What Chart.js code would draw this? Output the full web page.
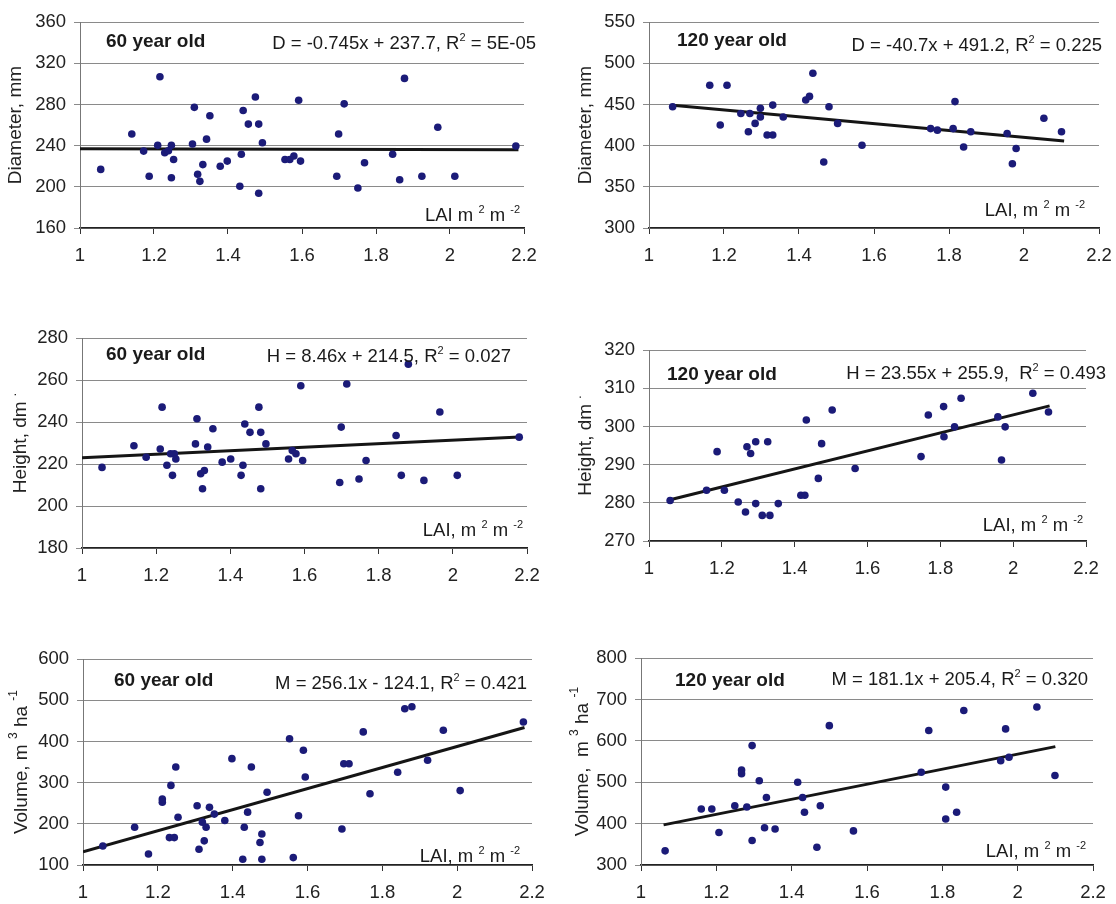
<!DOCTYPE html>
<html>
<head>
<meta charset="utf-8">
<script src="https://cdn.jsdelivr.net/npm/chart.js@4.4.1/dist/chart.umd.min.js"></script>
<style>
  body { margin: 0; background: #fff; }
  #page { position: relative; width: 1116px; height: 904px; overflow: hidden; }
  .panel { position: absolute; }
</style>
</head>
<body>
<div id="page"></div>
<script>
// shared x ticks (LAI)
const xTicks = [1, 1.2, 1.4, 1.6, 1.8, 2, 2.2];

// Diameter, 60 year old
const dia60X = [1.056, 1.140, 1.172, 1.187, 1.216, 1.210, 1.229, 1.239, 1.247, 1.247, 1.253, 1.309, 1.304, 1.318, 1.324, 1.332, 1.342, 1.351, 1.379, 1.398, 1.432, 1.436, 1.441, 1.455, 1.474, 1.483, 1.493, 1.483, 1.554, 1.567, 1.578, 1.591, 1.596, 1.694, 1.699, 1.714, 1.751, 1.769, 1.845, 1.864, 1.877, 1.924, 1.967, 2.013, 2.178];
const dia60Y = [216.9, 251.3, 234.7, 210.3, 306.9, 240.3, 233.1, 235.0, 240.3, 208.8, 226.6, 277.2, 241.6, 212.2, 205.3, 221.6, 246.3, 269.1, 220.0, 225.0, 200.6, 231.6, 274.1, 260.9, 287.2, 260.9, 242.8, 193.8, 226.6, 226.6, 230.0, 284.1, 225.0, 210.3, 251.3, 280.6, 198.8, 223.4, 231.6, 206.9, 305.3, 210.3, 257.8, 210.3, 239.7];
const dia60FitX = [1.0, 2.185];
const dia60FitY = [237.0, 236.1];
const dia60Ticks = [160, 200, 240, 280, 320, 360];

// Diameter, 120 year old
const dia120X = [1.063, 1.162, 1.208, 1.190, 1.245, 1.269, 1.265, 1.283, 1.297, 1.297, 1.315, 1.330, 1.330, 1.358, 1.418, 1.428, 1.437, 1.466, 1.480, 1.503, 1.568, 1.751, 1.769, 1.811, 1.816, 1.839, 1.858, 1.955, 1.969, 1.979, 2.053, 2.100];
const dia120Y = [447.3, 473.4, 473.4, 425.0, 439.1, 439.1, 416.8, 427.0, 445.3, 434.8, 412.9, 412.9, 449.2, 434.8, 455.5, 459.8, 487.9, 380.1, 447.3, 427.0, 400.4, 420.7, 418.8, 420.7, 453.5, 398.4, 416.8, 414.8, 378.1, 396.5, 433.2, 416.8];
const dia120FitX = [1.063, 2.107];
const dia120FitY = [448.9, 405.5];
const dia120Ticks = [300, 350, 400, 450, 500, 550];

// Height, 60 year old
const hgt60X = [1.054, 1.140, 1.173, 1.211, 1.216, 1.229, 1.239, 1.249, 1.244, 1.253, 1.306, 1.310, 1.320, 1.330, 1.325, 1.339, 1.353, 1.378, 1.401, 1.429, 1.434, 1.439, 1.453, 1.477, 1.482, 1.482, 1.496, 1.557, 1.567, 1.577, 1.590, 1.595, 1.695, 1.699, 1.714, 1.747, 1.766, 1.847, 1.861, 1.880, 1.922, 1.965, 2.012, 2.179];
const hgt60Y = [218.4, 228.7, 223.2, 227.2, 247.1, 219.4, 224.9, 224.9, 214.6, 222.4, 229.6, 241.6, 215.4, 216.9, 208.2, 228.1, 236.8, 220.9, 222.4, 214.6, 219.4, 239.1, 235.1, 247.1, 235.1, 208.2, 229.6, 222.4, 226.4, 224.9, 257.3, 221.7, 211.2, 237.6, 258.1, 212.9, 221.7, 233.6, 214.6, 267.6, 212.2, 244.8, 214.6, 232.8];
const hgt60FitX = [1.0, 2.18];
const hgt60FitY = [223.0, 232.9];
const hgt60Ticks = [180, 200, 220, 240, 260, 280];

// Height, 120 year old
const hgt120X = [1.058, 1.158, 1.187, 1.207, 1.245, 1.265, 1.269, 1.279, 1.293, 1.293, 1.311, 1.326, 1.332, 1.355, 1.417, 1.428, 1.432, 1.465, 1.474, 1.503, 1.566, 1.747, 1.767, 1.809, 1.810, 1.839, 1.857, 1.958, 1.968, 1.978, 2.054, 2.097];
const hgt120Y = [280.6, 283.3, 293.4, 283.3, 280.2, 277.6, 294.7, 292.9, 296.0, 279.8, 276.7, 296.0, 276.7, 279.8, 282.0, 282.0, 301.7, 286.4, 295.5, 304.3, 289.0, 292.1, 303.0, 305.2, 297.3, 299.9, 307.4, 302.5, 291.2, 299.9, 308.7, 303.8];
const hgt120FitX = [1.058, 2.1];
const hgt120FitY = [280.8, 305.4];
const hgt120Ticks = [270, 280, 290, 300, 310, 320];

// Volume, 60 year old
const vol60X = [1.053, 1.138, 1.175, 1.212, 1.212, 1.235, 1.231, 1.244, 1.248, 1.254, 1.305, 1.310, 1.319, 1.324, 1.329, 1.338, 1.351, 1.379, 1.398, 1.427, 1.431, 1.440, 1.450, 1.473, 1.478, 1.478, 1.492, 1.552, 1.562, 1.576, 1.589, 1.594, 1.692, 1.697, 1.711, 1.749, 1.767, 1.841, 1.860, 1.879, 1.921, 1.963, 2.008, 2.177];
const vol60Y = [146.2, 191.5, 126.6, 260.4, 252.6, 293.3, 166.5, 166.5, 337.9, 215.8, 243.9, 138.3, 204.1, 158.7, 191.5, 240.0, 223.6, 208.0, 358.2, 114.1, 191.5, 228.3, 337.9, 154.8, 175.1, 114.1, 276.8, 406.7, 118.0, 219.7, 378.6, 313.6, 187.6, 345.7, 345.7, 423.2, 272.9, 325.3, 479.5, 484.2, 354.3, 427.1, 280.7, 447.4];
const vol60FitX = [1.0, 2.18];
const vol60FitY = [132.0, 434.0];
const vol60Ticks = [100, 200, 300, 400, 500, 600];

// Volume, 120 year old
const vol120X = [1.064, 1.160, 1.188, 1.207, 1.249, 1.267, 1.267, 1.281, 1.295, 1.295, 1.314, 1.328, 1.333, 1.356, 1.416, 1.429, 1.434, 1.467, 1.476, 1.500, 1.564, 1.744, 1.764, 1.809, 1.809, 1.838, 1.857, 1.955, 1.968, 1.977, 2.051, 2.099];
const vol120Y = [334.2, 435.3, 435.3, 378.5, 443.1, 529.4, 520.8, 440.0, 588.5, 359.1, 503.7, 390.2, 463.3, 387.1, 499.8, 463.3, 427.5, 342.8, 443.1, 636.7, 382.4, 524.0, 625.0, 488.2, 411.2, 427.5, 673.3, 552.0, 628.9, 560.5, 681.8, 516.2];
const vol120FitX = [1.06, 2.1];
const vol120FitY = [397.0, 586.0];
const vol120Ticks = [300, 400, 500, 600, 700, 800];

const FONT = '"Liberation Sans", Arial, sans-serif';
const DOT = '#1b1b78';
const TEXT_SIZE = 18.5;
const Y_AXIS_W = 80;
const X_AXIS_H = 45;
const PAD_TOP = 12;
const PAD_RIGHT = 32;

const panels = [
    { x: dia60X, y: dia60Y, fx: dia60FitX, fy: dia60FitY, yTicks: dia60Ticks,
      plot: { l: 80, t: 15, r: 524, b: 228 },
      yTitle: ['Diameter, mm'], titleDx: -64,
      label: '60 year old', labelD: [26, 25],
      eq: ['D = -0.745x + 237.7, R', '^2', ' = 5E-05'], eqD: [12, 27],
      lai: ['LAI m ', '^2', ' m ', '^-2'], laiD: [-4, -7] },
    { x: dia120X, y: dia120Y, fx: dia120FitX, fy: dia120FitY, yTicks: dia120Ticks,
      plot: { l: 649, t: 15, r: 1099, b: 228 },
      yTitle: ['Diameter, mm'], titleDx: -63,
      label: '120 year old', labelD: [28, 24],
      eq: ['D = -40.7x + 491.2, R', '^2', ' = 0.225'], eqD: [3, 29],
      lai: ['LAI, m ', '^2', ' m ', '^-2'], laiD: [-14, -12] },
    { x: hgt60X, y: hgt60Y, fx: hgt60FitX, fy: hgt60FitY, yTicks: hgt60Ticks,
      plot: { l: 82, t: 331, r: 527, b: 548 },
      yTitle: ['Height, dm ', '^.'], titleDx: -61,
      label: '60 year old', labelD: [24, 22],
      eq: ['H = 8.46x + 214.5, R', '^2', ' = 0.027'], eqD: [-16, 24],
      lai: ['LAI, m ', '^2', ' m ', '^-2'], laiD: [-4, -12] },
    { x: hgt120X, y: hgt120Y, fx: hgt120FitX, fy: hgt120FitY, yTicks: hgt120Ticks,
      plot: { l: 649, t: 343, r: 1086, b: 541 },
      yTitle: ['Height, dm ', '^.'], titleDx: -63,
      label: '120 year old', labelD: [18, 30],
      eq: ['H = 23.55x + 255.9,  R', '^2', ' = 0.493'], eqD: [20, 29],
      lai: ['LAI, m ', '^2', ' m ', '^-2'], laiD: [-3, -10] },
    { x: vol60X, y: vol60Y, fx: vol60FitX, fy: vol60FitY, yTicks: vol60Ticks,
      plot: { l: 83, t: 652, r: 532, b: 865 },
      yTitle: ['Volume, m ', '^3', ' ha ', '^-1'], titleDx: -61,
      label: '60 year old', labelD: [31, 27],
      eq: ['M = 256.1x - 124.1, R', '^2', ' = 0.421'], eqD: [-5, 30],
      lai: ['LAI, m ', '^2', ' m ', '^-2'], laiD: [-12, -3] },
    { x: vol120X, y: vol120Y, fx: vol120FitX, fy: vol120FitY, yTicks: vol120Ticks,
      plot: { l: 641, t: 651, r: 1093, b: 865 },
      yTitle: ['Volume,  m ', '^3', ' ha ', '^-1'], titleDx: -58,
      label: '120 year old', labelD: [34, 28],
      eq: ['M = 181.1x + 205.4, R', '^2', ' = 0.320'], eqD: [-5, 27],
      lai: ['LAI, m ', '^2', ' m ', '^-2'], laiD: [-7, -8] }
];

// text parts: strings starting with '^' are superscripts
function richWidth(ctx, parts, size) {
    let w = 0;
    parts.forEach(p => {
        const sup = p.startsWith('^');
        ctx.font = `${sup ? Math.round(size * 0.62) : size}px ${FONT}`;
        w += ctx.measureText(sup ? p.slice(1) : p).width;
    });
    return w;
}

function drawRich(ctx, parts, x, y, size, align) {
    const w = richWidth(ctx, parts, size);
    let cx = align === 'right' ? x - w : (align === 'center' ? x - w / 2 : x);
    ctx.textAlign = 'left';
    parts.forEach(p => {
        const sup = p.startsWith('^');
        const t = sup ? p.slice(1) : p;
        ctx.font = `${sup ? Math.round(size * 0.62) : size}px ${FONT}`;
        ctx.fillText(t, cx, sup ? y - size * 0.42 : y);
        cx += ctx.measureText(t).width;
    });
}

const panelText = {
    id: 'panelText',
    afterDraw(chart, args, opts) {
        const { ctx, chartArea: a } = chart;
        const p = opts.panel;
        ctx.save();
        ctx.fillStyle = '#1a1a1a';
        ctx.textBaseline = 'alphabetic';
        ctx.textAlign = 'left';
        ctx.font = `bold 19px ${FONT}`;
        ctx.fillText(p.label, a.left + p.labelD[0], a.top + p.labelD[1]);
        drawRich(ctx, p.eq, a.right + p.eqD[0], a.top + p.eqD[1], TEXT_SIZE, 'right');
        drawRich(ctx, p.lai, a.right + p.laiD[0], a.bottom + p.laiD[1], TEXT_SIZE, 'right');

        // rotated y axis title
        ctx.translate(a.left + p.titleDx, (a.top + a.bottom) / 2);
        ctx.rotate(-Math.PI / 2);
        ctx.textBaseline = 'middle';
        ctx.fillStyle = '#222';
        drawRich(ctx, p.yTitle, 0, 0, 19, 'center');
        ctx.restore();
    }
};

const page = document.getElementById('page');

panels.forEach(p => {
    const w = (p.plot.r - p.plot.l) + Y_AXIS_W + PAD_RIGHT;
    const h = (p.plot.b - p.plot.t) + PAD_TOP + X_AXIS_H;
    const div = document.createElement('div');
    div.className = 'panel';
    div.style.left = (p.plot.l - Y_AXIS_W) + 'px';
    div.style.top = (p.plot.t - PAD_TOP) + 'px';
    div.style.width = w + 'px';
    div.style.height = h + 'px';
    const canvas = document.createElement('canvas');
    canvas.width = w;
    canvas.height = h;
    div.appendChild(canvas);
    page.appendChild(div);

    new Chart(canvas.getContext('2d'), {
        type: 'scatter',
        data: {
            datasets: [
                {
                    data: p.x.map((v, i) => ({ x: v, y: p.y[i] })),
                    backgroundColor: DOT,
                    borderWidth: 0,
                    pointRadius: 3.8
                },
                {
                    type: 'line',
                    data: p.fx.map((v, i) => ({ x: v, y: p.fy[i] })),
                    borderColor: '#151515',
                    borderWidth: 3,
                    pointRadius: 0,
                    fill: false
                }
            ]
        },
        options: {
            responsive: false,
            animation: false,
            devicePixelRatio: 1,
            layout: { padding: { left: 0, top: PAD_TOP, right: PAD_RIGHT, bottom: 0 } },
            plugins: {
                legend: { display: false },
                tooltip: { enabled: false },
                panelText: { panel: p }
            },
            scales: {
                x: {
                    type: 'linear',
                    min: 1,
                    max: 2.2,
                    afterBuildTicks: s => { s.ticks = xTicks.map(v => ({ value: v })); },
                    afterFit: s => { s.height = X_AXIS_H; },
                    grid: { drawOnChartArea: false, drawTicks: true, tickLength: 6, color: '#333' },
                    border: { color: '#222', width: 1.5 },
                    ticks: {
                        autoSkip: false,
                        maxRotation: 0,
                        padding: 11,
                        color: '#222',
                        font: { family: FONT, size: TEXT_SIZE },
                        callback: v => String(v)
                    }
                },
                y: {
                    type: 'linear',
                    min: p.yTicks[0],
                    max: p.yTicks[p.yTicks.length - 1],
                    afterBuildTicks: s => { s.ticks = p.yTicks.map(v => ({ value: v })); },
                    afterFit: s => { s.width = Y_AXIS_W; },
                    grid: { color: '#8a8a8a', lineWidth: 1, drawTicks: true, tickLength: 6 },
                    border: { color: '#777', width: 1 },
                    ticks: {
                        autoSkip: false,
                        padding: 8,
                        color: '#222',
                        font: { family: FONT, size: TEXT_SIZE },
                        callback: v => String(v)
                    }
                }
            }
        },
        plugins: [panelText]
    });
});
</script>
</body>
</html>
